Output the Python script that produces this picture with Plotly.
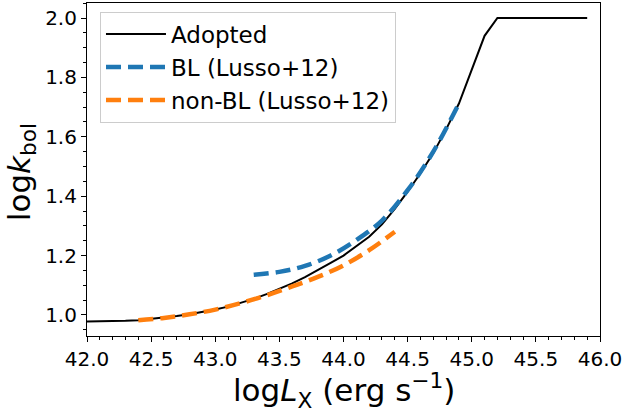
import plotly.graph_objects as go

# Adopted bolometric correction
adopted_x = [42.0, 42.1, 42.2, 42.3, 42.4, 42.5, 42.6, 42.7, 42.8, 42.9, 43.0, 43.1, 43.2,
             43.3, 43.4, 43.5, 43.6, 43.7, 43.8, 43.9, 44.0, 44.1, 44.2, 44.3, 44.4, 44.5,
             44.6, 44.7, 44.8, 44.9, 45.0, 45.1, 45.2, 45.9]
adopted_y = [0.978, 0.978, 0.979, 0.980, 0.982, 0.986, 0.990, 0.996, 1.002, 1.009, 1.018, 1.028, 1.040,
             1.054, 1.070, 1.087, 1.106, 1.127, 1.150, 1.175, 1.200, 1.230, 1.263, 1.305, 1.357, 1.415,
             1.477, 1.545, 1.625, 1.712, 1.825, 1.940, 2.000, 2.000]

# BL (Lusso+12)
bl_x = [43.3, 43.5, 43.7, 43.9, 44.1, 44.3, 44.5, 44.7, 44.9]
bl_y = [1.135, 1.145, 1.165, 1.200, 1.252, 1.318, 1.420, 1.550, 1.712]

# non-BL (Lusso+12)
nbl_x = [42.4, 42.6, 42.8, 43.0, 43.2, 43.4, 43.6, 43.8, 44.0, 44.2, 44.4]
nbl_y = [0.982, 0.990, 1.002, 1.018, 1.040, 1.066, 1.096, 1.128, 1.167, 1.218, 1.280]

x_ticks = [42.0, 42.5, 43.0, 43.5, 44.0, 44.5, 45.0, 45.5, 46.0]
y_ticks = [1.0, 1.2, 1.4, 1.6, 1.8, 2.0]

FONT = "DejaVu Sans"

fig = go.Figure()
fig.add_trace(go.Scatter(x=adopted_x, y=adopted_y, mode="lines", name="Adopted",
                         legendgroup="a",
                         line=dict(color="black", width=2)))
fig.add_trace(go.Scatter(x=bl_x, y=bl_y, mode="lines", name="BL (Lusso+12)",
                         legendgroup="b",
                         line=dict(color="#1f77b4", width=4.5, dash="15px,7px", shape="spline")))
fig.add_trace(go.Scatter(x=nbl_x, y=nbl_y, mode="lines", name="non-BL (Lusso+12)",
                         legendgroup="c",
                         line=dict(color="#ff7f0e", width=4.5, dash="15px,7px", shape="spline")))

axis_common = dict(
    showgrid=False, zeroline=False, showline=True, linecolor="black", linewidth=1.1,
    mirror=True, ticks="outside", ticklen=5, tickwidth=1.1, tickcolor="black",
    tickfont=dict(family=FONT, size=20, color="black"), automargin=False,
)

fig.update_xaxes(
    range=[42.0, 46.0], tickvals=x_ticks, ticktext=[f"{v:.1f}" for v in x_ticks],
    minor=dict(dtick=0.1, ticks="outside", ticklen=3, tickwidth=1, tickcolor="black"),
    **axis_common,
)
fig.update_yaxes(
    range=[0.929, 2.0506], tickvals=y_ticks, ticktext=[f"{v:.1f}" for v in y_ticks],
    minor=dict(dtick=0.05, tick0=0.9, ticks="outside", ticklen=3, tickwidth=1, tickcolor="black"),
    **axis_common,
)

fig.add_annotation(text="log<i>L</i><sub>X</sub> (erg s<sup>−1</sup>)",
                   xref="paper", yref="paper", x=0.5, y=-0.165,
                   xanchor="center", yanchor="middle", showarrow=False,
                   font=dict(family=FONT, size=31, color="black"))
fig.add_annotation(text="log<i>k</i><sub>bol</sub>",
                   xref="paper", yref="paper", x=-0.128, y=0.493,
                   xanchor="center", yanchor="middle", showarrow=False, textangle=-90,
                   font=dict(family=FONT, size=31, color="black"))

fig.update_layout(
    width=625, height=412,
    margin=dict(l=87, r=25, t=3, b=76),
    paper_bgcolor="white", plot_bgcolor="white",
    showlegend=True,
    legend=dict(x=0.0253, y=0.974, xanchor="left", yanchor="top",
                bgcolor="rgba(255,255,255,0.8)", bordercolor="#cccccc", borderwidth=1,
                font=dict(family=FONT, size=23, color="black"),
                tracegroupgap=0, itemwidth=60),
    font=dict(family=FONT),
)

fig.write_html("out.html", config={"displayModeBar": False},
               post_script="document.body.style.margin='0';document.body.style.overflow='hidden';")
